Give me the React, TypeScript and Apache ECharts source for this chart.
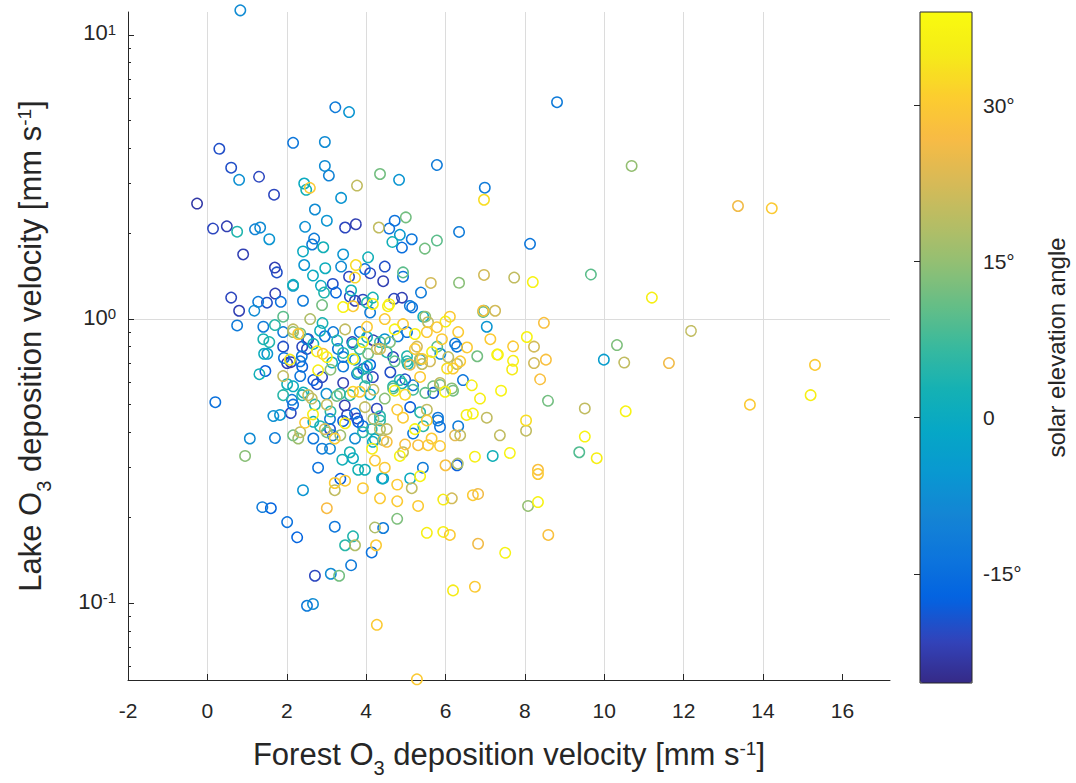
import React, { useEffect, useRef } from "react";
import * as echarts from "echarts";

// ---- axis / tick values ----
const xTicks = [-2, 0, 2, 4, 6, 8, 10, 12, 14, 16];
const yTicks = [0.1, 1, 10];
const yMinorTicks = [
  0.06, 0.07, 0.08, 0.09, 0.2, 0.3, 0.4, 0.5, 0.6, 0.7, 0.8, 0.9,
  2, 3, 4, 5, 6, 7, 8, 9,
];
const angleTicks = [-15, 0, 15, 30];
const xRange = [-2, 17.2];
const yRange = [0.0537, 12.04];
const angleRange = [-25.5, 39];

// MATLAB parula colormap stops
const parula = [
  "#352a87", "#3243ba", "#0363e1", "#0d75dc", "#1485d4", "#0998d1",
  "#06a7c6", "#15b1b4", "#38b99e", "#65be86", "#92bf73", "#b7bd64",
  "#d9ba56", "#f8bb44", "#fcce2e", "#f5eb18", "#f9fb0e",
];

// ---- observations: [forest Vd (mm/s), lake Vd (mm/s), solar elevation (deg)] ----
const deepNight: [number, number, number][] = [
  [0.30, 4.0, -20], [0.60, 3.41, -20], [1.30, 3.19, -21], [-0.26, 2.55, -23],
  [0.14, 2.10, -21], [0.49, 2.12, -22], [3.47, 2.10, -21], [3.74, 2.17, -22],
  [0.90, 1.70, -22], [1.70, 1.53, -22], [1.75, 1.46, -20], [1.68, 2.74, -21],
  [3.57, 1.41, -21], [4.47, 1.53, -20], [4.43, 1.36, -22], [3.16, 1.33, -20],
  [3.92, 1.17, -21], [3.72, 1.16, -22], [4.90, 1.20, -22], [4.70, 1.19, -21],
  [0.60, 1.19, -21], [1.50, 1.15, -20], [1.71, 1.23, -22], [0.80, 1.07, -22],
  [3.59, 1.20, -20], [4.10, 1.46, -21], [2.54, 0.85, -22], [1.91, 0.80, -20],
  [2.51, 0.785, -21], [2.10, 0.71, -22], [2.76, 0.59, -20], [2.10, 0.47, -21],
  [2.89, 0.625, -21], [3.42, 0.60, -22], [3.77, 0.447, -21], [2.71, 0.125, -21],
  [4.27, 0.484, -21], [3.93, 0.668, -20], [2.01, 0.70, -22], [2.39, 0.80, -21],
  [3.65, 0.83, -21], [4.18, 0.85, -22], [4.17, 0.625, -21], [4.98, 0.62, -20],
  [5.69, 0.55, -19], [6.29, 0.306, -18], [3.35, 0.274, -18], [2.26, 0.172, -17],
  [1.60, 0.216, -17], [3.42, 0.44, -18], [5.11, 0.49, -18], [4.61, 0.65, -20],
  [1.46, 0.66, -18], [2.67, 0.61, -18], [2.39, 0.68, -18], [3.46, 0.50, -22],
  [3.09, 0.41, -20], [3.52, 0.46, -21], [3.80, 0.435, -18], [4.68, 0.735, -21],
];

const night: [number, number, number][] = [
  [3.22, 5.62, -12], [8.81, 5.80, -12], [2.16, 4.17, -13], [5.78, 3.52, -12],
  [3.06, 3.22, -10], [6.99, 2.90, -12], [1.20, 2.07, -10], [4.58, 2.10, -14],
  [4.72, 2.22, -14], [6.34, 2.04, -12], [4.90, 1.80, -15], [5.15, 1.91, -13],
  [2.69, 1.92, -12], [2.64, 1.83, -12], [3.97, 1.50, -14], [4.93, 1.41, -14],
  [2.41, 1.16, -12], [3.24, 1.24, -16], [5.38, 1.25, -12], [1.28, 1.15, -12],
  [1.85, 1.15, -14], [0.75, 0.95, -12], [1.41, 0.94, -12], [5.16, 1.10, -14],
  [8.13, 1.84, -13], [1.91, 0.90, -12], [1.93, 0.73, -14], [2.34, 0.71, -14],
  [2.13, 0.52, -12], [2.16, 0.50, -14], [0.20, 0.51, -14], [1.70, 0.385, -11],
  [2.67, 0.38, -13], [2.89, 0.35, -12], [2.79, 0.30, -14], [1.38, 0.22, -12],
  [2.01, 0.193, -14], [3.21, 0.186, -13], [4.43, 0.184, -12], [4.14, 0.151, -14],
  [2.51, 0.098, -12], [3.62, 0.137, -12], [6.44, 0.61, -13], [6.29, 0.80, -13],
  [5.43, 0.30, -12], [6.32, 0.42, -12], [5.81, 0.44, -12], [5.86, 0.42, -14],
  [3.09, 0.445, -12], [3.92, 0.42, -14], [2.34, 0.63, -13], [4.10, 0.695, -16],
  [2.51, 0.85, -12], [2.96, 0.87, -14], [3.17, 0.90, -12], [3.42, 0.685, -12],
  [3.84, 0.90, -12], [5.03, 0.90, -14], [4.80, 0.87, -12], [6.24, 0.82, -12],
  [5.10, 1.12, -12], [4.10, 1.06, -12], [3.72, 0.465, -14], [3.77, 0.642, -12],
  [3.29, 0.785, -13], [5.18, 0.59, -12], [5.18, 0.40, -13], [5.81, 0.45, -13],
  [3.16, 0.39, -12], [2.38, 0.74, -13], [3.42, 0.74, -14],
];

const twilight: [number, number, number][] = [
  [0.83, 12.2, -8], [3.57, 5.35, -6], [2.96, 4.20, -8], [2.96, 3.46, -8],
  [0.80, 3.09, -7], [4.83, 3.09, -6], [3.37, 2.67, -6], [2.71, 2.43, -8],
  [3.01, 2.22, -6], [1.33, 2.10, -8], [1.56, 1.91, -6], [2.46, 2.13, -7],
  [3.42, 1.70, -6], [2.44, 1.55, -6], [3.37, 1.53, -8], [1.18, 1.08, -8],
  [7.04, 0.94, -6], [9.99, 0.72, -4], [1.66, 0.46, -7], [1.83, 0.46, -6],
  [1.07, 0.38, -8], [2.41, 0.25, -6], [2.66, 0.10, -8], [3.11, 0.127, -8],
  [3.09, 0.35, -9], [4.43, 0.275, -4], [1.51, 0.755, -6], [2.16, 1.31, -6],
  [4.85, 1.98, -5], [4.47, 0.85, -6], [3.72, 0.72, -7], [5.36, 0.72, -6],
  [5.87, 0.755, -8], [3.00, 0.546, -7], [3.72, 0.38, -8],
];

const dawn: [number, number, number][] = [
  [2.44, 3.0, 0], [2.49, 2.85, 2], [0.75, 2.03, 4], [2.41, 1.73, 0],
  [2.92, 1.79, 2], [4.05, 1.65, 2], [4.66, 1.88, 2], [2.66, 1.43, 0],
  [2.97, 1.51, 1], [2.16, 1.32, 2], [2.86, 1.32, 0], [2.94, 1.24, 4],
  [3.62, 1.27, 2], [4.17, 1.19, 3], [6.97, 1.07, 5], [1.56, 0.83, 4],
  [1.43, 0.755, 1], [1.31, 0.64, 2], [2.01, 0.59, 2], [2.16, 0.58, 0],
  [1.91, 0.54, 5], [2.39, 0.54, 4], [3.40, 0.32, 2], [3.59, 0.34, 3],
  [3.67, 0.324, 0], [3.80, 0.295, 3], [3.67, 0.172, 4], [3.47, 0.16, 5],
  [5.11, 0.275, 0], [4.40, 0.275, 0], [7.19, 0.33, 2], [3.97, 0.295, 2],
  [5.05, 0.695, 4], [4.68, 0.58, 4], [4.90, 0.60, 2], [5.36, 0.47, 5],
  [4.35, 0.455, 5], [4.14, 0.41, 5], [4.22, 0.38, 0], [3.97, 0.58, 5],
  [4.02, 0.625, 5], [2.42, 0.555, 2], [2.71, 0.50, 4], [3.10, 0.476, 5],
  [2.67, 0.435, 0], [3.80, 0.65, 5], [1.41, 0.85, 3], [3.27, 0.84, 4],
  [3.42, 0.765, 4], [2.90, 0.975, 3], [4.02, 1.15, 4], [5.44, 1.02, 1],
  [3.34, 0.546, 6], [4.10, 0.546, 1], [1.70, 0.96, 5], [3.14, 0.71, 2],
  [2.84, 0.91, 1], [3.67, 0.818, 2], [3.84, 0.785, 6], [4.52, 0.765, 5],
  [5.03, 0.71, 5], [4.85, 0.61, 5], [3.59, 0.54, 6], [4.35, 0.44, 5],
  [3.92, 0.40, 5], [4.17, 0.37, 0], [5.44, 0.42, 5], [2.84, 0.42, 4],
  [2.67, 0.818, 2], [4.02, 0.685, 1], [4.02, 0.87, 2], [4.35, 0.83, 6],
  [5.03, 0.74, 4],
];

const lowSun: [number, number, number][] = [
  [4.35, 3.24, 12], [5.0, 2.28, 12], [5.78, 1.91, 10], [5.48, 1.77, 12],
  [4.93, 1.46, 10], [6.34, 1.35, 14], [10.69, 3.46, 15], [9.66, 1.45, 10],
  [10.32, 0.81, 13], [8.58, 0.52, 12], [9.37, 0.34, 9], [8.08, 0.22, 15],
  [6.80, 0.74, 12], [5.79, 0.80, 10], [2.16, 0.90, 15], [2.34, 0.89, 12],
  [2.16, 0.39, 12], [2.29, 0.38, 16], [0.95, 0.33, 14], [4.78, 0.20, 13],
  [3.32, 0.125, 12], [5.18, 0.57, 8], [5.49, 0.55, 10], [5.86, 0.59, 12],
  [6.19, 0.56, 12], [2.89, 1.12, 12], [3.35, 0.39, 16], [3.01, 0.40, 12],
  [5.49, 1.02, 15], [6.95, 1.06, 10], [4.47, 0.525, 14], [3.10, 0.668, 14],
  [4.72, 0.71, 10], [1.91, 1.02, 10], [4.05, 0.755, 12], [4.60, 0.83, 13],
  [5.69, 0.58, 12], [6.16, 0.57, 14], [4.68, 0.57, 10], [3.26, 0.54, 12],
];

const midSun: [number, number, number][] = [
  [3.77, 2.95, 20], [4.32, 2.10, 20], [5.63, 1.34, 22], [6.97, 1.43, 22],
  [7.73, 1.40, 20], [7.25, 1.07, 22], [5.56, 0.975, 20], [13.37, 2.50, 26],
  [12.18, 0.92, 20], [10.50, 0.71, 20], [11.63, 0.70, 26], [9.51, 0.485, 20],
  [8.23, 0.70, 22], [8.23, 0.80, 22], [7.04, 0.45, 20], [7.37, 0.39, 20],
  [8.03, 0.405, 20], [1.91, 0.63, 20], [2.63, 0.525, 20], [3.21, 0.25, 20],
  [4.22, 0.186, 18], [3.72, 0.16, 18], [5.15, 0.254, 20], [6.16, 0.234, 22],
  [6.31, 0.31, 18], [6.82, 0.244, 26], [6.82, 0.163, 26], [5.41, 0.695, 20],
  [6.29, 0.695, 20], [4.18, 0.45, 18], [4.35, 0.41, 18], [4.43, 0.375, 20],
  [4.93, 0.34, 20], [6.37, 0.39, 20], [6.24, 0.39, 24], [2.54, 0.54, 20],
  [2.16, 0.92, 20], [6.07, 0.735, 20], [5.53, 0.48, 20], [5.61, 0.71, 22],
  [2.96, 0.41, 22], [3.97, 0.49, 20], [4.35, 0.785, 22], [3.47, 0.92, 20],
  [2.59, 1.0, 18], [5.10, 0.695, 24], [4.27, 0.785, 20], [5.28, 0.80, 22],
  [5.86, 0.60, 20], [4.18, 0.57, 20], [3.01, 0.50, 20], [4.52, 0.41, 20],
  [2.34, 0.40, 20], [5.36, 0.724, 18],
];

const highSun: [number, number, number][] = [
  [2.58, 2.92, 30], [6.97, 2.63, 33], [3.74, 1.56, 33], [3.72, 1.40, 32],
  [8.20, 1.35, 37], [4.58, 1.14, 37], [4.17, 1.13, 36], [6.95, 1.07, 28],
  [6.11, 1.02, 30], [6.0, 0.98, 36], [8.48, 0.97, 28], [14.22, 2.47, 30],
  [11.2, 1.19, 36], [15.31, 0.69, 30], [15.20, 0.54, 36], [13.67, 0.50, 30],
  [10.54, 0.475, 37], [9.51, 0.386, 37], [9.81, 0.324, 36], [8.33, 0.295, 28],
  [8.33, 0.285, 30], [8.33, 0.227, 37], [8.59, 0.174, 28], [7.50, 0.152, 37],
  [8.05, 0.865, 37], [7.70, 0.81, 30], [8.53, 0.72, 28], [8.38, 0.62, 28],
  [7.68, 0.665, 35], [7.40, 0.56, 37], [7.32, 0.75, 36], [8.03, 0.44, 33],
  [7.13, 0.85, 30], [6.54, 0.80, 30], [6.37, 0.71, 30], [6.19, 0.67, 30],
  [6.04, 0.67, 33], [6.66, 0.59, 36], [6.32, 0.90, 30], [6.87, 0.525, 36],
  [6.53, 0.46, 36], [6.69, 0.465, 37], [6.74, 0.33, 36], [7.62, 0.34, 37],
  [2.46, 0.435, 30], [2.66, 0.465, 36], [3.21, 0.265, 30], [3.47, 0.27, 30],
  [3.92, 0.254, 30], [3.01, 0.216, 27], [4.25, 0.16, 30], [4.35, 0.234, 30],
  [4.78, 0.231, 30], [4.78, 0.264, 30], [5.36, 0.28, 37], [5.31, 0.22, 30],
  [5.53, 0.177, 36], [5.94, 0.18, 36], [6.11, 0.174, 30], [5.94, 0.234, 35],
  [6.69, 0.24, 30], [6.19, 0.111, 35], [6.74, 0.115, 30], [4.27, 0.084, 30],
  [5.28, 0.054, 30], [6.0, 0.306, 28], [5.86, 0.36, 30], [5.56, 0.36, 30],
  [5.31, 0.36, 28], [4.85, 0.33, 37], [4.47, 0.30, 30], [4.22, 0.32, 30],
  [5.65, 0.38, 30], [5.53, 0.44, 30], [4.93, 0.45, 30], [4.78, 0.485, 30],
  [3.67, 0.555, 32], [3.67, 1.11, 30], [3.42, 1.11, 37], [4.55, 1.11, 36],
  [5.78, 0.945, 30], [4.93, 0.96, 30], [5.23, 0.886, 36], [5.53, 0.90, 30],
  [5.91, 0.85, 30], [7.70, 0.72, 36], [7.30, 0.755, 37], [2.29, 0.886, 30],
  [2.76, 0.77, 36], [2.91, 0.755, 30], [3.67, 0.724, 36], [3.92, 0.83, 37],
  [4.02, 0.945, 30], [4.47, 1.0, 30], [4.72, 0.92, 37], [5.23, 0.785, 30],
  [4.98, 0.546, 32], [4.72, 0.56, 36], [5.23, 0.41, 37], [4.98, 0.365, 28],
  [4.15, 0.35, 36], [3.47, 0.43, 35], [3.21, 0.38, 30], [2.79, 0.66, 36],
  [2.08, 0.72, 35], [5.36, 0.626, 30], [5.41, 0.724, 30], [5.99, 0.555, 37],
  [3.84, 0.555, 30], [4.52, 0.37, 28], [3.01, 0.735, 37], [5.66, 0.77, 36],
];

const FONT = "'Liberation Sans', Arial, Helvetica, sans-serif";
const INK = "#262626";
const GRID = "#dcdcdc";

const titleRich = {
  b: { fontSize: 31, lineHeight: 36, verticalAlign: "top", color: INK, fontFamily: FONT },
  sub: { fontSize: 20, verticalAlign: "top", padding: [19, 0, 0, 0], color: INK, fontFamily: FONT },
  sup: { fontSize: 19, verticalAlign: "top", color: INK, fontFamily: FONT },
};

export default function App() {
  const ref = useRef<HTMLDivElement>(null);

  useEffect(() => {
    if (!ref.current) return;
    const chart = echarts.init(ref.current, null, { renderer: "svg" });
    const data = [...deepNight, ...night, ...twilight, ...dawn, ...lowSun, ...midSun, ...highSun];

    chart.setOption({
      animation: false,
      backgroundColor: "#ffffff",
      textStyle: { fontFamily: FONT },
      grid: [
        { left: 128, top: 12, width: 762, height: 671, containLabel: false },
        { left: 920, top: 12, width: 52, height: 671, containLabel: false },
      ],
      xAxis: [
        {
          type: "value",
          gridIndex: 0,
          min: xRange[0],
          max: xRange[1],
          interval: 2,
          axisLine: { show: true, onZero: false, lineStyle: { color: INK, width: 1 } },
          axisTick: { show: true, inside: true, length: 6, customValues: xTicks, lineStyle: { color: INK } },
          axisLabel: { customValues: xTicks, fontSize: 21, color: INK, margin: 20, fontFamily: FONT },
          splitLine: { show: true, showMinLine: false, showMaxLine: false, lineStyle: { color: GRID, width: 1 } },
          name: "{b|Forest O}{sub|3}{b| deposition velocity [mm s}{sup|-1}{b|]}",
          nameLocation: "middle",
          nameGap: 59,
          nameTextStyle: { rich: titleRich },
        },
        { type: "value", gridIndex: 1, show: false, min: 0, max: 1 },
      ],
      yAxis: [
        {
          type: "log",
          logBase: 10,
          gridIndex: 0,
          min: yRange[0],
          max: yRange[1],
          axisLine: { show: true, onZero: false, lineStyle: { color: INK, width: 1 } },
          axisTick: { show: true, inside: true, length: 6, customValues: yTicks, lineStyle: { color: INK } },
          axisLabel: {
            customValues: yTicks,
            margin: 12,
            formatter: (v: number) => "{b|10}{sup|" + Math.round(Math.log10(v)) + "}",
            rich: {
              b: { fontSize: 22, lineHeight: 26, verticalAlign: "top", color: INK, fontFamily: FONT },
              sup: { fontSize: 15, verticalAlign: "top", color: INK, fontFamily: FONT },
            },
          },
          splitLine: { show: true, showMinLine: false, showMaxLine: false, lineStyle: { color: GRID, width: 1 } },
          name: "{b|Lake O}{sub|3}{b| deposition velocity [mm s}{sup|-1}{b|]}",
          nameLocation: "middle",
          nameRotate: 90,
          nameGap: 74,
          nameTextStyle: { rich: titleRich },
        },
        {
          type: "value",
          gridIndex: 1,
          min: angleRange[0],
          max: angleRange[1],
          position: "right",
          axisLine: { show: false },
          axisTick: { show: true, inside: true, length: 6, customValues: angleTicks, lineStyle: { color: INK } },
          axisLabel: {
            customValues: angleTicks,
            fontSize: 21,
            color: INK,
            margin: 11,
            fontFamily: FONT,
            formatter: (v: number) => (v === 0 ? "0" : v + "°"),
          },
          splitLine: { show: false },
          name: "solar elevation angle",
          nameLocation: "middle",
          nameRotate: 90,
          nameGap: 70,
          nameTextStyle: { fontSize: 24, lineHeight: 28, color: INK, fontFamily: FONT },
        },
        {
          // minor log ticks on the lake axis
          type: "log",
          logBase: 10,
          gridIndex: 0,
          position: "left",
          min: yRange[0],
          max: yRange[1],
          axisLine: { show: false, onZero: false },
          axisTick: { show: true, inside: true, length: 3, customValues: yMinorTicks, lineStyle: { color: INK } },
          axisLabel: { show: false },
          splitLine: { show: false },
        },
      ],
      visualMap: {
        type: "continuous",
        min: angleRange[0],
        max: angleRange[1],
        dimension: 2,
        seriesIndex: 0,
        left: 920,
        top: 12,
        itemWidth: 52,
        itemHeight: 671,
        padding: 0,
        calculable: false,
        hoverLink: false,
        inRange: { color: parula },
      },
      series: [
        {
          type: "custom",
          coordinateSystem: "cartesian2d",
          xAxisIndex: 0,
          yAxisIndex: 0,
          silent: true,
          clip: false,
          encode: { x: 0, y: 1 },
          data,
          renderItem: (_params: any, api: any) => {
            const p = api.coord([api.value(0), api.value(1)]);
            return {
              type: "circle",
              shape: { cx: p[0], cy: p[1], r: 5.2 },
              style: { fill: "none", stroke: api.visual("color"), lineWidth: 1.5 },
            };
          },
        },
      ],
      graphic: [
        {
          type: "rect",
          z: 100,
          silent: true,
          shape: { x: 920, y: 12, width: 52, height: 671 },
          style: { fill: "none", stroke: INK, lineWidth: 1 },
        },
      ],
    });

    return () => chart.dispose();
  }, []);

  return (
    <div
      ref={ref}
      style={{ position: "fixed", left: 0, top: 0, width: 1076, height: 783, background: "#fff" }}
    />
  );
}
